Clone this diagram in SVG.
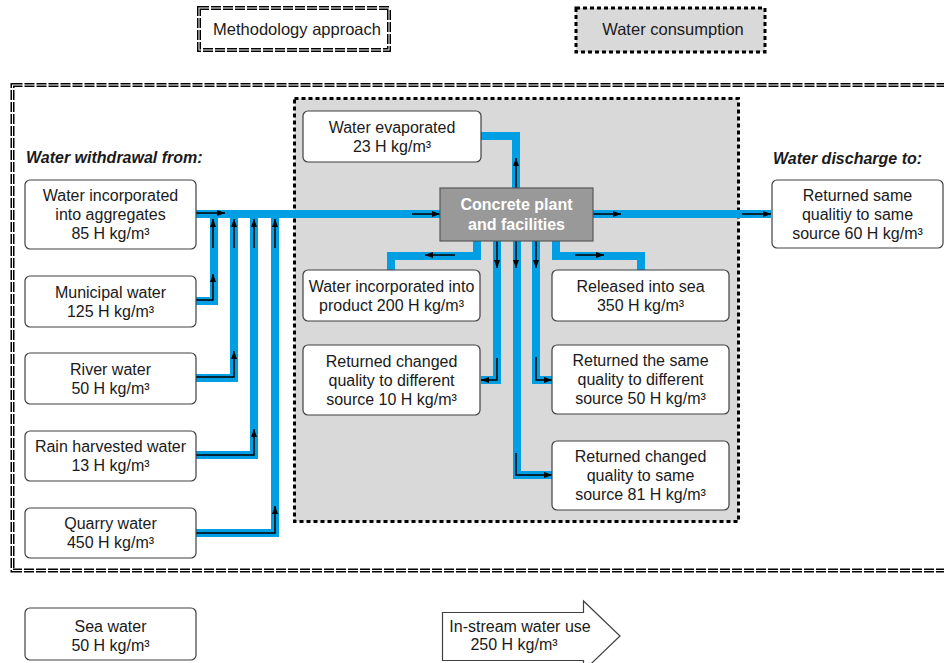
<svg xmlns="http://www.w3.org/2000/svg" width="944" height="663" viewBox="0 0 944 663">
<defs>
<marker id="ah" viewBox="0 0 8 6" refX="8" refY="3" markerWidth="8" markerHeight="6" orient="auto" markerUnits="userSpaceOnUse"><path d="M0,0 L8,3 L0,6 z" fill="#000"/></marker>
<style>
text{font-family:"Liberation Sans",Arial,sans-serif;font-size:16px;fill:#1a1a1a;text-anchor:middle}
.box{fill:#fff;stroke:#404040;stroke-width:1.2}
.pipe{fill:none;stroke:#009fe3;stroke-width:8;stroke-linejoin:miter}
.arr{fill:none;stroke:#000;stroke-width:1.5;marker-end:url(#ah)}
.ln{fill:none;stroke:#000;stroke-width:1.5}
.dbl{fill:none;stroke:#000;stroke-width:4;stroke-dasharray:10 2}
.dblin{fill:none;stroke:#fff;stroke-width:1}
.dot{stroke:#000;stroke-width:3;stroke-dasharray:4 3}
.hd{font-weight:bold;font-style:italic;text-anchor:start}
</style>
</defs>
<rect width="944" height="663" fill="#fff"/>

<!-- outer methodology frame -->
<g id="frame">
<rect class="dbl" x="12.5" y="85" width="950" height="485.5"/>
<rect class="dblin" x="12.5" y="85" width="950" height="485.5"/>
</g>

<!-- legend -->
<g id="legend-methodology">
<rect x="199" y="8" width="190" height="42" fill="#fff"/>
<rect class="dbl" x="199" y="8" width="190" height="42"/>
<rect class="dblin" x="199" y="8" width="190" height="42"/>
<text x="297" y="35" style="font-size:16.5px">Methodology approach</text>
</g>
<g id="legend-consumption">
<rect class="dot" x="576" y="8" width="189" height="44" fill="#d9d9d9"/>
<text x="673" y="35" style="font-size:16.5px">Water consumption</text>
</g>

<!-- consumption area -->
<g id="consumption-area">
<rect class="dot" x="294.5" y="98.5" width="444" height="423" fill="#d9d9d9"/>
</g>

<text class="hd" x="26" y="163">Water withdrawal from:</text>
<text class="hd" x="773" y="164">Water discharge to:</text>

<!-- connectors -->
<g id="connectors">
<path class="pipe" d="M196,214 H771"/>
<path class="pipe" d="M196,301 H214 V214"/>
<path class="pipe" d="M196,378 H234 V214"/>
<path class="pipe" d="M196,455 H254 V214"/>
<path class="pipe" d="M196,533 H275 V214"/>
<path class="pipe" d="M516,188 V136 H481"/>
<path class="pipe" d="M477,241 V256 H391 V270"/>
<path class="pipe" d="M497,241 V380 H481"/>
<path class="pipe" d="M517,241 V475 H552"/>
<path class="pipe" d="M536,241 V380 H552"/>
<path class="pipe" d="M556,241 V256 H641 V270"/>

<path class="arr" d="M196,213 H225"/>
<path class="arr" d="M196,300 H213 V274"/>
<path class="arr" d="M213,248 V219"/>
<path class="arr" d="M196,377 H234 V351"/>
<path class="arr" d="M234,248 V219"/>
<path class="arr" d="M196,455 H254 V429"/>
<path class="arr" d="M254,248 V219"/>
<path class="arr" d="M196,533 H275 V506"/>
<path class="arr" d="M275,248 V219"/>
<path class="arr" d="M412,214 H440"/>
<path class="arr" d="M593,214 H621"/>
<path class="arr" d="M742,214 H771"/>
<path class="arr" d="M516,188 V158"/>
<path class="arr" d="M455,255 H425"/>
<path class="arr" d="M575,255 H604"/>
<path class="arr" d="M497,241 V268"/>
<path class="arr" d="M516,241 V268"/>
<path class="arr" d="M536,241 V268"/>
<path class="arr" d="M497,358 V380 H481"/>
<path class="arr" d="M536,357 V380 H552"/>
<path class="arr" d="M516,453 V475 H552"/>
</g>

<!-- nodes -->
<g id="n-aggregates">
<rect class="box" x="25" y="180" width="171" height="69" rx="5"/>
<text x="110.5" y="201">Water incorporated</text>
<text x="110.5" y="220">into aggregates</text>
<text x="110.5" y="239">85 H kg/m³</text>
</g>
<g id="n-municipal">
<rect class="box" x="25" y="276" width="171" height="51" rx="5"/>
<text x="110.5" y="297.5">Municipal water</text>
<text x="110.5" y="316.5">125 H kg/m³</text>
</g>
<g id="n-river">
<rect class="box" x="25" y="353" width="171" height="51" rx="5"/>
<text x="110.5" y="374.5">River water</text>
<text x="110.5" y="393.5">50 H kg/m³</text>
</g>
<g id="n-rain">
<rect class="box" x="25" y="431" width="171" height="50" rx="5"/>
<text x="110.5" y="452">Rain harvested water</text>
<text x="110.5" y="471">13 H kg/m³</text>
</g>
<g id="n-quarry">
<rect class="box" x="25" y="508" width="171" height="50" rx="5"/>
<text x="110.5" y="529">Quarry water</text>
<text x="110.5" y="548">450 H kg/m³</text>
</g>
<g id="n-evaporated">
<rect class="box" x="303" y="111" width="178" height="51" rx="5"/>
<text x="392" y="132.5">Water evaporated</text>
<text x="392" y="151.5">23 H kg/m³</text>
</g>
<g id="n-plant">
<rect x="440" y="188" width="153" height="53" fill="#999" stroke="#595959" stroke-width="1.2"/>
<text x="516.5" y="210" style="font-weight:bold;fill:#fff">Concrete plant</text>
<text x="516.5" y="229.5" style="font-weight:bold;fill:#fff">and facilities</text>
</g>
<g id="n-product">
<rect class="box" x="303" y="270" width="177" height="51" rx="5"/>
<text x="391.5" y="291.5">Water incorporated into</text>
<text x="391.5" y="310.5">product 200 H kg/m³</text>
</g>
<g id="n-changed-diff">
<rect class="box" x="303" y="345" width="177" height="70" rx="5"/>
<text x="391.5" y="366.5">Returned changed</text>
<text x="391.5" y="385.5">quality to different</text>
<text x="391.5" y="404.5">source 10 H kg/m³</text>
</g>
<g id="n-sea">
<rect class="box" x="552" y="270" width="177" height="51" rx="5"/>
<text x="640.5" y="291.5">Released into sea</text>
<text x="640.5" y="310.5">350 H kg/m³</text>
</g>
<g id="n-same-diff">
<rect class="box" x="552" y="345" width="177" height="69" rx="5"/>
<text x="640.5" y="366">Returned the same</text>
<text x="640.5" y="385">quality to different</text>
<text x="640.5" y="404">source 50 H kg/m³</text>
</g>
<g id="n-changed-same">
<rect class="box" x="552" y="441" width="177" height="69" rx="5"/>
<text x="640.5" y="462">Returned changed</text>
<text x="640.5" y="481">quality to same</text>
<text x="640.5" y="500">source 81 H kg/m³</text>
</g>
<g id="n-same-same">
<rect class="box" x="772" y="180" width="171" height="68" rx="5"/>
<text x="857.5" y="200.5">Returned same</text>
<text x="857.5" y="219.5">qualitiy to same</text>
<text x="857.5" y="238.5">source 60 H kg/m³</text>
</g>
<g id="n-seawater">
<rect class="box" x="25" y="608" width="171" height="52" rx="5"/>
<text x="110.5" y="631.5">Sea water</text>
<text x="110.5" y="650.5">50 H kg/m³</text>
</g>
<g id="n-instream">
<path d="M442.5,612.5 H583.5 V601 L620,636 L583.5,671 V660.5 H442.5 Z" fill="#fff" stroke="#404040" stroke-width="1.2"/>
<text x="520" y="632">In-stream water use</text>
<text x="514" y="650">250 H kg/m³</text>
</g>
</svg>
